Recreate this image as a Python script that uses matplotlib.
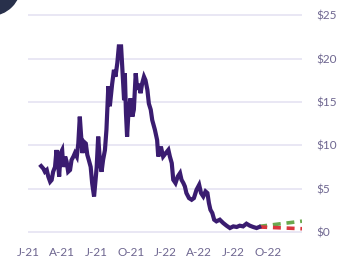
import matplotlib
matplotlib.use('Agg')
import matplotlib.pyplot as plt
from matplotlib.patches import Ellipse

# price history (days since 2021-01-01, price in $)
days = [35, 41, 45, 50, 54, 59, 63, 67, 72, 76, 81, 83, 87, 91, 94, 99, 103, 107,
        112, 116, 121, 125, 130, 134, 138, 141, 145, 149, 154, 158, 162, 167, 171,
        176, 180, 183, 187, 192, 196, 200, 205, 209, 214, 218, 224, 229, 233, 238,
        242, 248, 251, 256, 258, 261, 264, 268, 273, 278, 282, 287, 291, 296, 300,
        304, 309, 313, 318, 322, 327, 331, 338, 344, 347, 354, 360, 367, 374, 378,
        383, 387, 393, 399, 405, 409, 414, 418, 422, 429, 436, 442, 449, 456, 461,
        467, 473, 478, 482, 486, 491, 496, 502, 511, 520, 529, 538, 547, 556, 564,
        573, 582, 591, 600, 609, 616]
price = [7.6, 7.3, 6.95, 7.15, 6.4, 5.8, 6.0, 6.95, 7.5, 9.45, 7.5, 6.4, 9.1, 9.45,
         7.5, 8.7, 8.1, 6.95, 7.15, 8.3, 8.7, 9.1, 8.7, 10.2, 13.3, 11.4, 9.1, 10.4,
         10.2, 8.9, 8.3, 7.5, 5.6, 4.1, 6.0, 7.5, 11.0, 7.9, 6.95, 8.3, 9.45, 11.8,
         16.8, 14.5, 17.0, 18.7, 17.9, 19.5, 21.4, 21.4, 19.1, 15.2, 18.3, 13.7, 11.0,
         14.1, 15.4, 13.3, 14.1, 18.3, 16.4, 17.1, 16.0, 17.1, 17.9, 17.5, 16.4, 14.8,
         14.1, 12.9, 11.8, 10.6, 8.70, 9.85, 8.70, 9.09, 9.47, 8.70, 7.94, 6.02, 5.64,
         6.40, 6.79, 6.02, 5.64, 5.25, 4.49, 3.91, 3.72, 3.91, 4.87, 5.44, 4.49, 4.10,
         4.68, 4.49, 3.34, 2.57, 2.19, 1.42, 1.23, 1.42, 1.04, 0.73, 0.46, 0.65, 0.58,
         0.73, 0.65, 0.96, 0.73, 0.58, 0.46, 0.58]

# forecast band
fc_days = [616, 730]
fc_high = [0.65, 1.25]
fc_low = [0.58, 0.38]

tick_labels = ['J-21', 'A-21', 'J-21', 'O-21', 'J-22', 'A-22', 'J-22', 'O-22']
y_ticks = [0, 5, 10, 15, 20, 25]

plt.rcParams['font.family'] = ['Lato', 'DejaVu Sans']
fig = plt.figure(figsize=(3.48, 2.61), dpi=100)
ax = fig.add_axes([28 / 348, 0.0778, 274 / 348, 0.914])

for y in y_ticks:
    ax.axhline(y, color='#e3e0f1', lw=1.1, zorder=0)

ax.plot(days, price, color='#3a1c70', lw=3.0, solid_joinstyle='miter', zorder=3)
ax.plot(fc_days, fc_high, color='#6aa84f', lw=2.6, ls=(0, (2.2, 1.6)), zorder=2)
ax.plot(fc_days, fc_low, color='#d9363e', lw=2.6, ls=(0, (2.2, 1.6)), zorder=2)

ax.set_xlim(0, 730)
ax.set_ylim(-1, 26.5)
ax.set_xticks([i * 91.25 for i in range(8)])
ax.set_xticklabels(tick_labels)
ax.set_yticks(y_ticks)
ax.set_yticklabels(['$' + str(v) for v in y_ticks])
ax.yaxis.tick_right()
ax.tick_params(axis='both', length=0, labelsize=8.5, labelcolor='#6e6690')
ax.tick_params(axis='y', pad=10)
ax.tick_params(axis='x', pad=4.5)
for s in ax.spines.values():
    s.set_visible(False)

fig.add_artist(Ellipse((-10 / 348, 1 + 15 / 261), 61 / 348, 61 / 261,
                       transform=fig.transFigure, color='#28304b', clip_on=False))

fig.savefig('out.png', dpi=100)
